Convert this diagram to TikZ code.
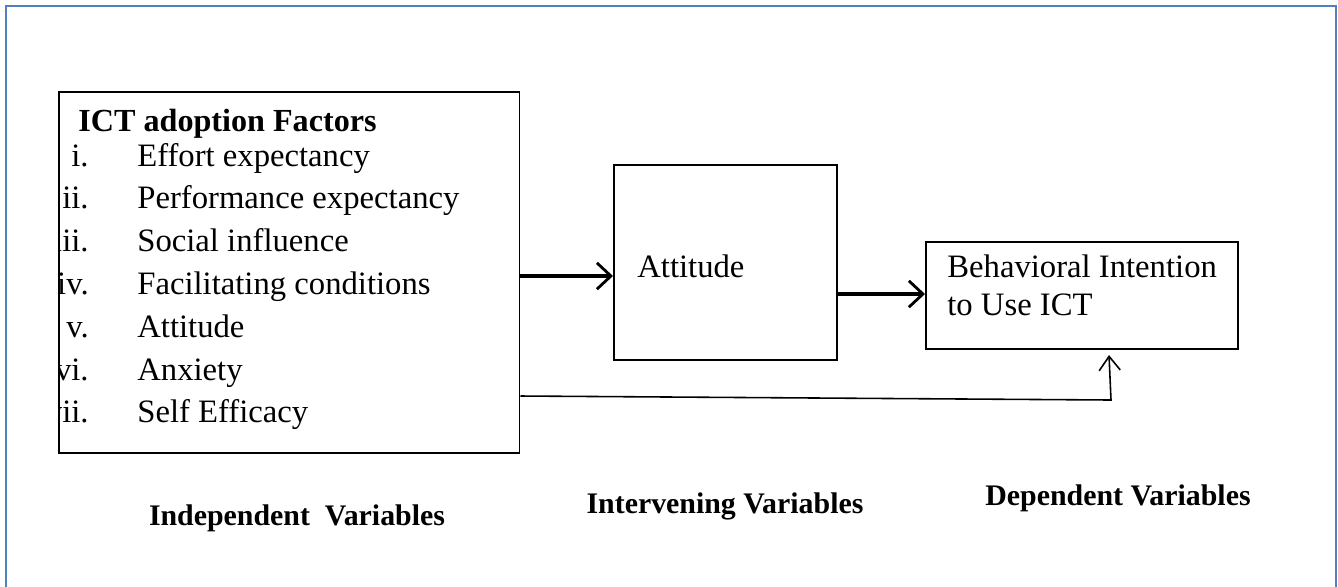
\documentclass[tikz,border=0pt]{standalone}
\usepackage{fontspec}
\setmainfont{Liberation Serif}
\usetikzlibrary{arrows.meta, positioning, calc}
\definecolor{frameBlue}{RGB}{79, 129, 189}

\begin{document}
\begin{tikzpicture}[
        x=0.02cm, y=-0.02cm,
        box/.style={rectangle, draw=black, line width=0.9pt, inner sep=0pt, anchor=north west},
        item/.style={font=\fontsize{18.6}{22}\selectfont, inner sep=0pt, anchor=base west},
        num/.style={font=\fontsize{18.6}{22}\selectfont, inner sep=0pt, anchor=base east},
        varlabel/.style={font=\fontsize{17}{20}\selectfont\bfseries, inner sep=0pt, anchor=base},
        flow/.style={-{Straight Barb[length=8pt, width=15pt, line width=1.6pt]}, line width=1.8pt}
    ]
        \useasboundingbox (0,0) rectangle (1338,586);
        % Outer frame
        \draw[frameBlue, line width=1pt] (6,600) -- (6,6) -- (1336,6) -- (1336,600);

        % Main components
        \node[box, minimum width=9.22cm, minimum height=7.22cm] (icf) at (58,91) {};
        \node[box, minimum width=4.46cm, minimum height=3.9cm] (att) at (613,164) {};
        \node[box, minimum width=6.24cm, minimum height=2.14cm] (bi) at (925,241) {};

        % Factor list
        \node[font=\fontsize{18.3}{22}\selectfont\bfseries, inner sep=0pt, anchor=base west] (title) at (78,131) {ICT adoption Factors};
        \begin{scope}
            \clip (icf.north west) rectangle (icf.south east);
            \foreach \n/\txt [count=\i from 0] in {i./Effort expectancy, ii./Performance expectancy, iii./Social influence, iv./Facilitating conditions, v./Attitude, vi./Anxiety, vii./Self Efficacy} {
                \node[num] (n\i) at (89,166+42.8*\i) {\n};
                \node[item] (f\i) at (137,166+42.8*\i) {\txt};
            }
        \end{scope}

        % Box texts
        \node[item] (atttxt) at (637,277) {Attitude};
        \node[item] (bitxt1) at (947,277) {Behavioral Intention};
        \node[item] (bitxt2) at (947,315) {to Use ICT};

        % Connectors
        \coordinate (a1) at (icf.east |- 0,276);
        \coordinate (a2) at (att.west |- 0,276);
        \draw[flow] (a1) -- (a2);
        \coordinate (b1) at (att.east |- 0,294);
        \coordinate (b2) at (bi.west |- 0,294);
        \draw[flow] (b1) -- (b2);
        \coordinate (c1) at (icf.east |- 0,396);
        \coordinate (c2) at (1111,400);
        \coordinate (c3) at (1109,355);
        \draw[line width=0.9pt, -{Straight Barb[length=8pt, width=12pt]}] (c1) -- (c2) -- (c3);

        % Variable labels
        \node[varlabel] (ind) at (297,525) {Independent\ \ Variables};
        \node[varlabel] (int) at (725,513) {Intervening Variables};
        \node[varlabel] (dep) at (1118,505) {Dependent Variables};
    \end{tikzpicture}
\end{document}
